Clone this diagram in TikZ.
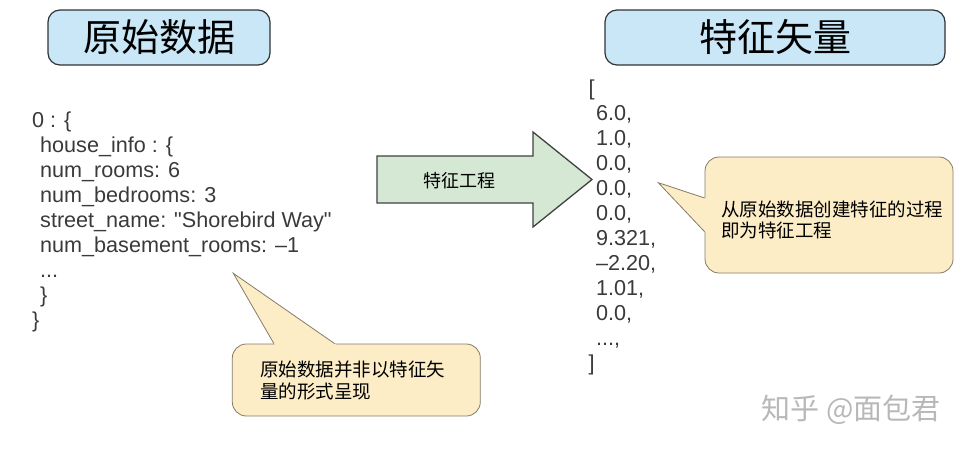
\documentclass[tikz,border=0pt]{standalone}
\usepackage{fontspec}
\setmainfont{Liberation Sans}[Ligatures=TeXOff]
\newfontfamily\cjk{Noto Sans CJK SC}
\usetikzlibrary{positioning,calc}

\definecolor{titleblue}{HTML}{C9E7F6}
\definecolor{titleline}{HTML}{2F3336}
\definecolor{arrowgreen}{HTML}{D5E8D4}
\definecolor{arrowline}{HTML}{3F4240}
\definecolor{notefill}{HTML}{FCEDC6}
\definecolor{noteline}{HTML}{857B68}
\definecolor{codegray}{HTML}{3A3A3A}
\newcommand\etcdots{...}

\begin{document}
\begin{tikzpicture}[x=1pt, y=-1pt,
  title/.style={draw=titleline, line width=1.2pt, fill=titleblue,
    rounded corners=12pt, minimum height=55pt, inner sep=0pt,
    font=\cjk\fontsize{38}{42}\selectfont},
  code/.style={font=\fontsize{21.6}{25}\selectfont, text=codegray,
    inner sep=0pt, anchor=base west},
  fatarrow/.style={draw=arrowline, line width=1.3pt, fill=arrowgreen,
    line join=miter},
  box/.style={draw=noteline, line width=0.8pt, fill=notefill,
    rounded corners=14pt, inner sep=0pt},
  tail/.style={draw=noteline, line width=0.8pt, line join=miter},
  notetext/.style={font=\cjk\fontsize{18.5}{21}\selectfont, align=left,
    inner sep=0pt, anchor=west},
  lbl/.style={font=\cjk\fontsize{18}{20}\selectfont, inner sep=0pt}]

\useasboundingbox (0,0) rectangle (967,450);

% =================== the two headings ===================
\node[title, minimum width=222pt] (raw) at (159,37.5) {原始数据};
\node[title, minimum width=340pt] (vec) at (775,37.5) {特征矢量};

% =================== raw record ===================
\node[code] (raw0) at (32,127) {0 : \{};
\foreach \t [count=\i from 1] in {{house\_info : \{}, {num\_rooms: 6},
    {num\_bedrooms: 3}, {street\_name: "Shorebird Way"},
    {num\_basement\_rooms: –1}, {\etcdots}, {\}}}
  \node[code] (raw\i) at (40,{127+25*\i}) {\t};
\node[code] (raw8) at (32,327) {\}};

% =================== feature vector ===================
\node[code] (vec0) at (588.5,95) {[};
\foreach \t [count=\i from 1] in {{6.0,}, {1.0,}, {0.0,}, {0.0,}, {0.0,},
    {9.321,}, {–2.20,}, {1.01,}, {0.0,}, {\etcdots,}}
  \node[code] (vec\i) at (596,{95+25*\i}) {\t};
\node[code] (vec11) at (588.5,370) {]};

% =================== the engineering step ===================
\draw[fatarrow] (377,156) -- (533,156) -- (533,132) -- (592,179.5)
  -- (533,227) -- (533,203) -- (377,203) -- cycle;
\node[lbl] (fe) at (459,181) {特征工程};

% =================== note on the right ===================
\node[box, minimum width=248pt, minimum height=116pt] (ideabox) at (829,215) {};
\coordinate (ideatip) at (658.3,182.7);
\fill[notefill] (ideatip) -- (707,198.7) -- (707,233.8) -- cycle;
\draw[tail] ($(ideabox.west)+(0,-17)$) -- (ideatip) -- ($(ideabox.west)+(0,16.7)$);
\node[notetext] (idea) at (721,219.5)
  {从原始数据创建特征的过程\\即为特征工程};

% =================== note at the bottom ===================
\node[box, minimum width=248pt, minimum height=72pt] (mythbox) at (356.3,380) {};
\coordinate (mythtip) at (233.3,273.3);
\fill[notefill] (mythtip) -- (275.5,346) -- (337.9,346) -- cycle;
\draw[tail] ($(mythbox.north west)+(42,0)$) -- (mythtip)
  -- ($(mythbox.north west)+(102.7,0)$);
\node[notetext, font=\cjk\fontsize{18.5}{21.5}\selectfont] (myth) at (260,380.5)
  {原始数据并非以特征矢\\量的形式呈现};

% watermark
\node[font=\cjk\fontsize{29}{30}\selectfont, text=black!28, inner sep=0pt]
  (mark) at (851,410) {知乎 @面包君};
\end{tikzpicture}
\end{document}
